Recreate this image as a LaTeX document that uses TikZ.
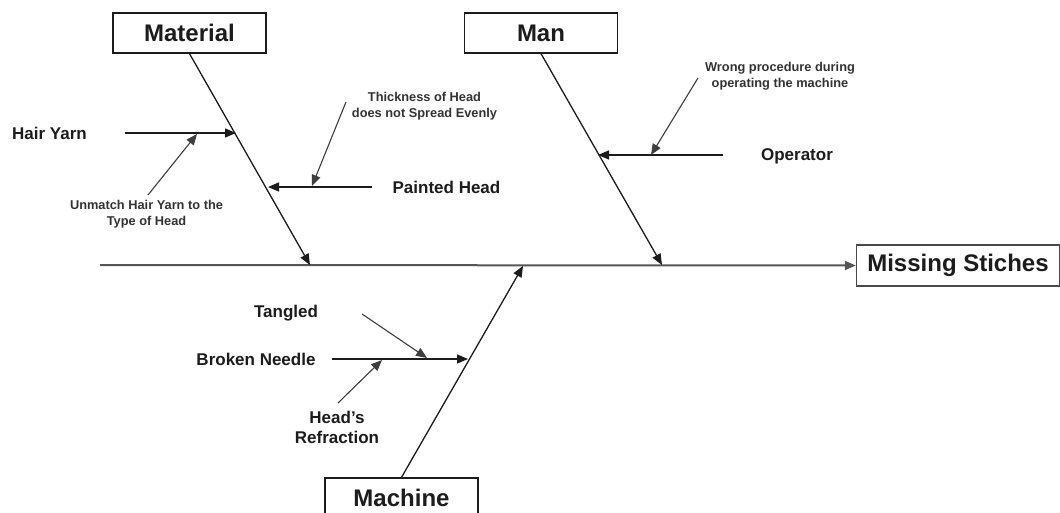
\documentclass[tikz,border=0pt]{standalone}
\usepackage{fontspec}
\setmainfont{Liberation Sans}
\usetikzlibrary{arrows.meta}
\definecolor{ink}{HTML}{1C1C1C}
\definecolor{spinegray}{HTML}{555555}
\begin{document}
\begin{tikzpicture}[x=1pt,y=-1pt,
  catbox/.style={draw=ink,line width=1.3pt,fill=white,minimum width=153pt,minimum height=40pt,
    inner sep=0pt,font=\fontsize{24}{28}\selectfont\bfseries,text=ink},
  effectbox/.style={draw=ink!80,line width=1.3pt,fill=white,minimum width=203pt,minimum height=41pt,
    inner sep=0pt,font=\fontsize{24}{28}\selectfont\bfseries,text=ink},
  causelbl/.style={inner sep=0pt,font=\fontsize{17}{20}\selectfont\bfseries,text=ink,align=center},
  notelbl/.style={inner sep=0pt,font=\fontsize{12.8}{16}\selectfont\bfseries,text=ink!90,align=center},
  tip/.style={-{Triangle[length=11pt,width=9pt]}},
  bone/.style={tip,draw=ink,line width=1.3pt},
  spine/.style={tip,draw=spinegray,line width=2pt},
  twig/.style={tip,draw=ink,line width=1.3pt},
  hint/.style={tip,draw=ink!85,line width=1.1pt}]
\clip (0,0) rectangle (1060,513);
\fill[white] (0,0) rectangle (1060,513);

% category boxes and effect
\node[catbox] (material) at (189.5,33) {Material};
\node[catbox] (man) at (541,33) {Man};
\node[catbox] (machine) at (401.5,498) {Machine};
\node[effectbox] (effect) at (958,265.5) {Missing Stiches};

% spine
\coordinate (spineL) at (100,265);
\draw[spine] (spineL) -- (effect.west);

% main bones
\coordinate (matJ) at (310,265);
\coordinate (manJ) at (662,265);
\coordinate (macJ) at (523,266);
\draw[bone] (material.south) -- (matJ);
\draw[bone] (man.south) -- (manJ);
\draw[bone] (machine.north) -- (macJ);

% Material causes
\node[causelbl] (hair) at (49.5,133) {Hair Yarn};
\coordinate (hairS) at (125,133);
\coordinate (hairE) at (236,133);
\draw[twig] (hairS) -- (hairE);
\node[notelbl] (unmatch) at (146.5,214) {Unmatch Hair Yarn to the\\Type of Head};
\coordinate (unmatchS) at (148,195);
\coordinate (unmatchE) at (197,134);
\draw[hint] (unmatchS) -- (unmatchE);

\node[causelbl] (painted) at (446.5,187) {Painted Head};
\coordinate (paintS) at (372,187);
\coordinate (paintE) at (268,187);
\draw[twig] (paintS) -- (paintE);
\node[notelbl] (thick) at (424.5,106) {Thickness of Head\\does not Spread Evenly};
\coordinate (thickS) at (346,102);
\coordinate (thickE) at (312,186);
\draw[hint] (thickS) -- (thickE);

% Man causes
\node[causelbl] (operator) at (797,156) {Operator};
\coordinate (opS) at (723,155);
\coordinate (opE) at (598,155);
\draw[twig] (opS) -- (opE);
\node[notelbl] (wrong) at (780,76.5) {Wrong procedure during\\operating the machine};
\coordinate (wrongS) at (698,78);
\coordinate (wrongE) at (651,155);
\draw[hint] (wrongS) -- (wrongE);

% Machine causes
\node[causelbl] (needle) at (256,359) {Broken Needle};
\coordinate (needleS) at (332,359);
\coordinate (needleE) at (468,359);
\draw[twig] (needleS) -- (needleE);
\node[causelbl] (tangled) at (286,313) {Tangled};
\coordinate (tangS) at (362,314);
\coordinate (tangE) at (427,358);
\draw[hint] (tangS) -- (tangE);
\node[causelbl] (refr) at (337,427.5) {Head's\\Refraction};
\coordinate (refrS) at (338,403);
\coordinate (refrE) at (382,360);
\draw[hint] (refrS) -- (refrE);
\end{tikzpicture}
\end{document}
